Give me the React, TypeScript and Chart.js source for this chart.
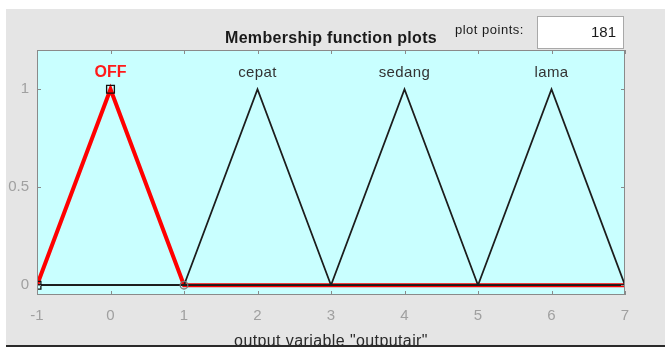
import React, { useEffect, useRef } from "react";
import { Chart, registerables } from "chart.js";

Chart.register(...registerables);

// Output variable range and its membership functions (triangular: [a, b, c])
const xRange = [-1, 7];
const mfNames = ["OFF", "cepat", "sedang", "lama"];
const mfParams = [
  [-1, 0, 1],
  [1, 2, 3],
  [3, 4, 5],
  [5, 6, 7],
];
const xTicks = [-1, 0, 1, 2, 3, 4, 5, 6, 7];
const yTicks = [0, 0.5, 1];
const yRange = [-0.05, 1.2];
const selectedIndex = 0;
const plotPoints = "181";
const titleText = "Membership function plots";
const xLabel = 'output variable "outputair"';

const W = 665;
const H = 349;
const plotLeft = 37;
const plotRight = 625;
const plotTop = 50;
const plotBottom = 295;
const FONT = "'Liberation Sans', Arial, sans-serif";

// polyline of a triangular MF across the whole range
function trimfLine(p: number[]) {
  const pts = [
    { x: xRange[0], y: 0 },
    { x: p[0], y: 0 },
    { x: p[1], y: 1 },
    { x: p[2], y: 0 },
    { x: xRange[1], y: 0 },
  ];
  return pts.filter((pt, i) => i === 0 || pt.x !== pts[i - 1].x || pt.y !== pts[i - 1].y);
}

function spaced(ctx: any, px: string) {
  if ("letterSpacing" in ctx) ctx.letterSpacing = px;
}

const framePlugin = {
  id: "mfFrame",
  beforeDraw(chart: any) {
    const { ctx } = chart;
    const a = chart.chartArea;
    ctx.save();
    ctx.fillStyle = "#ffffff";
    ctx.fillRect(0, 0, W, H);
    ctx.fillStyle = "#e5e5e5";
    ctx.fillRect(6, 9, W - 6, 336);
    ctx.fillStyle = "#c9ffff";
    ctx.fillRect(a.left, a.top, a.right - a.left, a.bottom - a.top);
    ctx.restore();
  },
  afterDraw(chart: any) {
    const { ctx } = chart;
    const a = chart.chartArea;
    const xs = chart.scales.x;
    const ys = chart.scales.y;
    ctx.save();
    // border and inward tick marks
    ctx.strokeStyle = "#8a8a8a";
    ctx.lineWidth = 1;
    ctx.strokeRect(a.left + 0.5, a.top + 0.5, a.right - a.left - 1, a.bottom - a.top - 1);
    ctx.beginPath();
    xTicks.forEach((v) => {
      const px = Math.round(xs.getPixelForValue(v)) + 0.5;
      ctx.moveTo(px, a.top);
      ctx.lineTo(px, a.top + 4);
      ctx.moveTo(px, a.bottom);
      ctx.lineTo(px, a.bottom - 4);
    });
    yTicks.forEach((v) => {
      const py = Math.round(ys.getPixelForValue(v)) + 0.5;
      ctx.moveTo(a.left, py);
      ctx.lineTo(a.left + 4, py);
      ctx.moveTo(a.right, py);
      ctx.lineTo(a.right - 4, py);
    });
    ctx.stroke();

    // MF names above the peaks
    ctx.textAlign = "center";
    ctx.textBaseline = "middle";
    mfNames.forEach((name, i) => {
      const px = xs.getPixelForValue(mfParams[i][1]);
      if (i === selectedIndex) {
        ctx.fillStyle = "#ff1a1a";
        ctx.font = `bold 16px ${FONT}`;
        spaced(ctx, "0px");
      } else {
        ctx.fillStyle = "#333333";
        ctx.font = `15px ${FONT}`;
        spaced(ctx, "0.4px");
      }
      ctx.fillText(name, px, 73);
    });

    // title
    ctx.fillStyle = "#1a1a1a";
    ctx.font = `bold 16px ${FONT}`;
    spaced(ctx, "0.3px");
    ctx.fillText(titleText, 331, 39);

    // plot points field
    ctx.font = `13px ${FONT}`;
    spaced(ctx, "0.5px");
    ctx.fillStyle = "#1a1a1a";
    ctx.textAlign = "left";
    ctx.fillText("plot points:", 455, 30);
    ctx.fillStyle = "#ffffff";
    ctx.fillRect(537, 16, 87, 33);
    ctx.strokeStyle = "#a8a8a8";
    ctx.strokeRect(537.5, 16.5, 86, 32);
    ctx.fillStyle = "#1a1a1a";
    ctx.font = `15px ${FONT}`;
    spaced(ctx, "0px");
    ctx.textAlign = "right";
    ctx.fillText(plotPoints, 616, 33);

    // x label, partly hidden by the bottom rule
    ctx.textAlign = "center";
    ctx.textBaseline = "alphabetic";
    ctx.fillStyle = "#2a2a2a";
    ctx.font = `16px ${FONT}`;
    spaced(ctx, "0.4px");
    ctx.fillText(xLabel, 331, 346);
    ctx.fillStyle = "#2a2a2a";
    ctx.fillRect(6, 345, W - 6, 2);
    ctx.fillStyle = "#ffffff";
    ctx.fillRect(0, 347, W, 2);
    ctx.restore();
  },
};

export default function App() {
  const ref = useRef<HTMLCanvasElement | null>(null);

  useEffect(() => {
    document.body.style.margin = "0";
    if (!ref.current) return;

    const blackSets = mfParams
      .map((p, i) => ({ p, i }))
      .filter(({ i }) => i !== selectedIndex)
      .map(({ p, i }) => ({
        label: mfNames[i],
        data: trimfLine(p),
        showLine: true,
        borderColor: "#1c1c1c",
        borderWidth: 1.8,
        pointRadius: 0,
        order: 1,
      }));

    const sel = mfParams[selectedIndex];
    const datasets: any[] = [
      {
        label: mfNames[selectedIndex],
        data: trimfLine(sel),
        showLine: true,
        borderColor: "#ff0000",
        borderWidth: 4,
        pointRadius: 0,
        order: 3,
      },
      ...blackSets,
      {
        label: "handles",
        data: [
          { x: sel[0], y: 0 },
          { x: sel[1], y: 1 },
          { x: sel[2], y: 0 },
        ],
        showLine: false,
        pointStyle: ["rect", "rect", "circle"],
        pointRadius: [5.5, 5.5, 3.8],
        pointBackgroundColor: "rgba(0,0,0,0)",
        pointBorderColor: ["#111111", "#111111", "#777777"],
        pointBorderWidth: 1.3,
        order: 0,
      },
    ];

    const chart = new Chart(ref.current, {
      type: "scatter",
      data: { datasets },
      plugins: [framePlugin],
      options: {
        animation: false,
        responsive: false,
        layout: { padding: { left: 0, top: plotTop, right: W - plotRight, bottom: 0 } },
        plugins: { legend: { display: false }, tooltip: { enabled: false } },
        elements: { line: { tension: 0 } },
        scales: {
          x: {
            type: "linear",
            min: xRange[0],
            max: xRange[1],
            afterBuildTicks: (s: any) => {
              s.ticks = xTicks.map((v) => ({ value: v }));
            },
            afterFit: (s: any) => {
              s.height = H - plotBottom;
            },
            grid: { display: false, drawTicks: false },
            border: { display: false },
            ticks: {
              padding: 12,
              color: "#a0a0a0",
              font: { family: FONT, size: 15 },
              maxRotation: 0,
              autoSkip: false,
            },
          },
          y: {
            type: "linear",
            min: yRange[0],
            max: yRange[1],
            afterBuildTicks: (s: any) => {
              s.ticks = yTicks.map((v) => ({ value: v }));
            },
            afterFit: (s: any) => {
              s.width = plotLeft;
            },
            grid: { display: false, drawTicks: false },
            border: { display: false },
            ticks: {
              padding: 8,
              color: "#a0a0a0",
              font: { family: FONT, size: 15 },
              callback: (v: any) => String(v),
            },
          },
        },
      },
    });
    return () => chart.destroy();
  }, []);

  return (
    <div style={{ width: W, height: H }}>
      <canvas ref={ref} width={W} height={H} style={{ display: "block" }} />
    </div>
  );
}
